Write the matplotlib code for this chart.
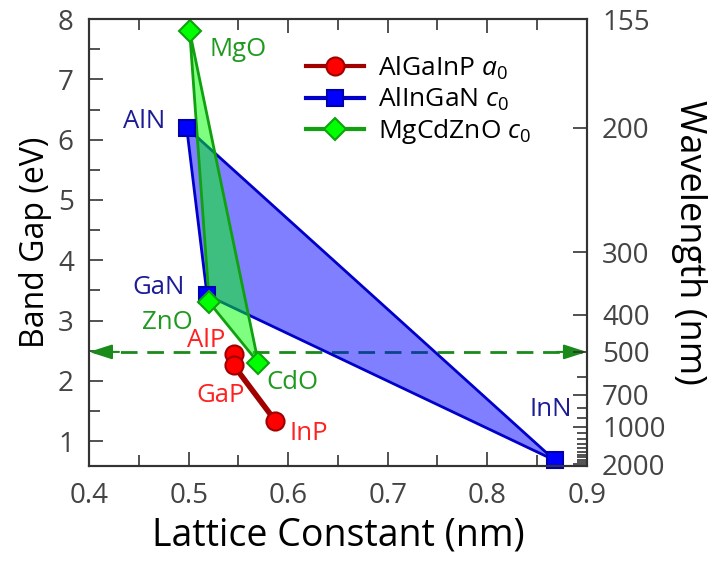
import matplotlib
matplotlib.use("Agg")
import matplotlib.pyplot as plt
from matplotlib.lines import Line2D
from matplotlib.ticker import MultipleLocator, FixedLocator, NullFormatter

plt.rcParams['font.family'] = ['Open Sans', 'DejaVu Sans']
plt.rcParams['mathtext.fontset'] = 'custom'
plt.rcParams['mathtext.it'] = 'Open Sans:italic'
plt.rcParams['mathtext.rm'] = 'Open Sans'

# Data
algainp_names = ['AlP', 'GaP', 'InP']
algainp_a = [0.5451, 0.5451, 0.5869]
algainp_eg = [2.45, 2.26, 1.34]

alingan_names = ['AlN', 'GaN', 'InN']
alingan_c = [0.498, 0.5185, 0.868]
alingan_eg = [6.2, 3.42, 0.68]

mgcdzno_names = ['MgO', 'ZnO', 'CdO']
mgcdzno_c = [0.501, 0.5207, 0.570]
mgcdzno_eg = [7.8, 3.3, 2.3]

wl_major = [155, 200, 300, 400, 500, 700, 1000, 2000]
wl_minor = [600, 800, 900, 1100, 1200, 1300, 1400, 1500, 1600, 1700, 1800, 1900]
green_line_wl = 500

fig = plt.figure(figsize=(7.13, 5.62), dpi=100)
ax = fig.add_axes([0.125, 0.170, 0.698, 0.796])

ylo, yhi = 0.58, 1240 / 155
ax.set_xlim(0.4, 0.9)
ax.set_ylim(ylo, yhi)

# polygons
ax.fill(alingan_c, alingan_eg, facecolor=(0, 0, 1, 0.5), edgecolor='#0000c8', lw=2, zorder=2)
ax.fill(mgcdzno_c, mgcdzno_eg, facecolor=(0, 1, 0, 0.5), edgecolor='#10a010', lw=2, zorder=3)

ax.plot(alingan_c, alingan_eg, ls='none', marker='s', ms=12, mfc='#0000ff', mec='#0000b0', mew=1.5, zorder=4, clip_on=False)
ax.plot(mgcdzno_c, mgcdzno_eg, ls='none', marker='D', ms=11, mfc='#00ff00', mec='#10a010', mew=1.5, zorder=5)
ax.plot(algainp_a, algainp_eg, '-', color='#a00000', lw=4, marker='o', ms=13, mfc='#ff0000', mec='#a00000', mew=1.5, zorder=6)

# dashed 500 nm line with arrowheads
eg500 = 1240 / green_line_wl
ax.plot([0.405, 0.895], [eg500, eg500], ls=(0, (6, 3.5)), color='#1a8a1a', lw=2, zorder=1)
for x0, x1 in [(0.43, 0.4), (0.87, 0.9)]:
    ax.annotate('', xy=(x1, eg500), xytext=(x0, eg500),
                arrowprops=dict(arrowstyle='-|>,head_length=1.4,head_width=0.45',
                                color='#1a8a1a', lw=1.5, shrinkA=0, shrinkB=0), zorder=7)

# labels
lfs = 18.5
navy = '#1c1c96'
grn = '#1f9a1f'
red = '#ff2020'
ax.text(0.521, 7.5, 'MgO', color=grn, fontsize=lfs, ha='left', va='center')
ax.text(0.476, 6.3, 'AlN', color=navy, fontsize=lfs, ha='right', va='center')
ax.text(0.496, 3.55, 'GaN', color=navy, fontsize=lfs, ha='right', va='center')
ax.text(0.504, 2.97, 'ZnO', color=grn, fontsize=lfs, ha='right', va='center')
ax.text(0.537, 2.67, 'AlP', color=red, fontsize=lfs, ha='right', va='center')
ax.text(0.556, 1.75, 'GaP', color=red, fontsize=lfs, ha='right', va='center')
ax.text(0.601, 1.12, 'InP', color=red, fontsize=lfs, ha='left', va='center')
ax.text(0.578, 1.98, 'CdO', color=grn, fontsize=lfs, ha='left', va='center')
ax.text(0.885, 1.53, 'InN', color=navy, fontsize=lfs, ha='right', va='center')

# axes styling
tickc = '#444444'
ax.xaxis.set_major_locator(MultipleLocator(0.1))
ax.xaxis.set_minor_locator(MultipleLocator(0.05))
ax.yaxis.set_major_locator(MultipleLocator(1))
ax.yaxis.set_minor_locator(MultipleLocator(0.5))
ax.tick_params(which='both', direction='in', top=True, right=False, width=1.2, color='#333333',
               labelsize=20, labelcolor=tickc, pad=11)
ax.tick_params(which='major', length=10)
ax.tick_params(which='minor', length=8)
for s in ax.spines.values():
    s.set_color('#333333')
    s.set_linewidth(1.5)
ax.set_xlabel('Lattice Constant (nm)', fontsize=27, labelpad=5)
ax.set_ylabel('Band Gap (eV)', fontsize=23, labelpad=4)

ax2 = ax.twinx()
ax2.set_ylim(ylo, yhi)
ax2.yaxis.set_major_locator(FixedLocator([1240 / w for w in wl_major]))
ax2.set_yticklabels([str(w) for w in wl_major])
ax2.yaxis.set_minor_locator(FixedLocator([1240 / w for w in wl_minor]))
ax2.yaxis.set_minor_formatter(NullFormatter())
ax2.tick_params(which='both', direction='in', width=1.2, color='#333333', labelsize=20,
                labelcolor=tickc, pad=11)
ax2.tick_params(which='major', length=10)
ax2.tick_params(which='minor', length=7)
for s in ax2.spines.values():
    s.set_color('#333333')
    s.set_linewidth(1.5)
ax2.set_ylabel('Wavelength (nm)', fontsize=26, rotation=270, labelpad=30)

handles = [
    Line2D([], [], color='#a00000', lw=3, marker='o', ms=13, mfc='#ff0000', mec='#a00000', mew=1.5),
    Line2D([], [], color='#0000c8', lw=3, marker='s', ms=12, mfc='#0000ff', mec='#0000b0', mew=1.5),
    Line2D([], [], color='#10a010', lw=3, marker='D', ms=11, mfc='#00ff00', mec='#10a010', mew=1.5),
]
labels = ['AlGaInP $a_0$', 'AlInGaN $c_0$', 'MgCdZnO $c_0$']
ax2.legend(handles, labels, loc='upper left', bbox_to_anchor=(0.41, 0.95), frameon=False,
           fontsize=19, handlelength=2.2, handletextpad=0.5, labelspacing=0.15, borderpad=0)

fig.savefig('out.png', dpi=100)
